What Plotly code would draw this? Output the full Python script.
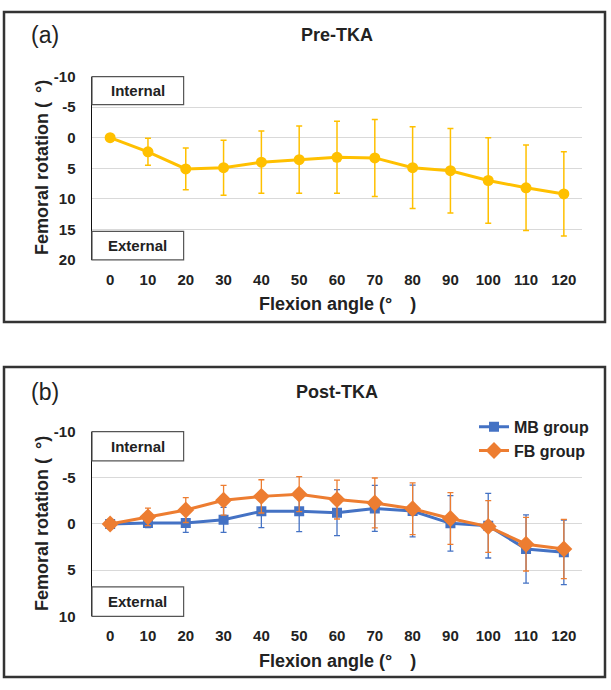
import plotly.graph_objects as go

# ---------------- data ----------------
flexion = [0, 10, 20, 30, 40, 50, 60, 70, 80, 90, 100, 110, 120]
x_tick_labels = [str(v) for v in flexion]

pre_mean = [0, 2.3, 5.1, 4.9, 4.0, 3.6, 3.2, 3.3, 4.9, 5.4, 7.0, 8.2, 9.2]
pre_sd = [0, 2.2, 3.4, 4.5, 5.1, 5.5, 5.9, 6.3, 6.7, 6.9, 7.0, 7.0, 6.9]

mb_mean = [0, -0.1, -0.1, -0.45, -1.37, -1.37, -1.23, -1.69, -1.4, -0.07, 0.18, 2.71, 3.07]
mb_sd = [0.5, 0.5, 1.0, 1.35, 1.77, 2.2, 2.5, 2.5, 2.8, 3.0, 3.5, 3.7, 3.5]

fb_mean = [0, -0.77, -1.51, -2.57, -2.99, -3.23, -2.64, -2.28, -1.65, -0.6, 0.28, 2.19, 2.71]
fb_sd = [0.4, 0.95, 1.35, 1.6, 1.8, 1.9, 2.1, 2.7, 2.8, 2.8, 2.8, 2.9, 3.2]

pre_yticks = [-10, -5, 0, 5, 10, 15, 20]
pre_ytick_labels = ["-10", "-5", "0", "5", "10", "15", "20"]
post_yticks = [-10, -5, 0, 5, 10]
post_ytick_labels = ["-10", "-5", "0", "5", "10"]

# ---------------- styling ----------------
W, H = 611, 690
FONT = "Liberation Sans, Arial, sans-serif"
YELLOW = "#FFC000"
BLUE = "#4472C4"
ORANGE = "#ED7D31"
GRID = "#D9D9D9"


def py(p):
    """pixel y -> paper fraction"""
    return 1 - p / H


def px(p):
    return p / W


fig = go.Figure()

fig.add_trace(go.Scatter(
    x=flexion, y=pre_mean, mode="lines+markers",
    line=dict(color=YELLOW, width=3),
    marker=dict(color=YELLOW, size=11, symbol="circle"),
    error_y=dict(type="data", array=pre_sd, visible=True, color=YELLOW,
                 thickness=1.5, width=3),
    xaxis="x", yaxis="y", showlegend=False, name="Pre-TKA"))

fig.add_trace(go.Scatter(
    x=flexion, y=mb_mean, mode="lines+markers", name="MB group",
    line=dict(color=BLUE, width=3),
    marker=dict(color=BLUE, size=10, symbol="square"),
    error_y=dict(type="data", array=mb_sd, visible=True, color=BLUE,
                 thickness=1.3, width=3),
    xaxis="x2", yaxis="y2", showlegend=True))

fig.add_trace(go.Scatter(
    x=flexion, y=fb_mean, mode="lines+markers", name="FB group",
    line=dict(color=ORANGE, width=3),
    marker=dict(color=ORANGE, size=13, symbol="diamond"),
    error_y=dict(type="data", array=fb_sd, visible=True, color=ORANGE,
                 thickness=1.3, width=3),
    xaxis="x2", yaxis="y2", showlegend=True))

xdom = [px(92), px(582)]
common_x = dict(
    domain=xdom, range=[-4.8, 124.8], tickmode="array", tickvals=flexion,
    ticktext=x_tick_labels, showgrid=False, zeroline=False, showline=False,
    ticks="outside", ticklen=6, tickcolor="rgba(0,0,0,0)",
    tickfont=dict(family=FONT, size=15, color="#222", weight="bold"),
    fixedrange=True)
common_y = dict(
    showgrid=True, gridcolor=GRID, gridwidth=1, zeroline=False,
    showline=True, linecolor="#111", linewidth=1.5, mirror=False,
    ticks="outside", ticklen=12, tickcolor="rgba(0,0,0,0)",
    tickfont=dict(family=FONT, size=15, color="#222", weight="bold"),
    fixedrange=True)

fig.update_layout(
    width=W, height=H, margin=dict(l=0, r=0, t=0, b=0),
    paper_bgcolor="white", plot_bgcolor="white",
    font=dict(family=FONT, color="#222"),
    hovermode=False,
    xaxis=dict(common_x, anchor="y"),
    yaxis=dict(common_y, anchor="x", domain=[py(257.3), py(69.3)],
               range=[20, -10], tickmode="array", tickvals=pre_yticks,
               ticktext=pre_ytick_labels),
    xaxis2=dict(common_x, anchor="y2"),
    yaxis2=dict(common_y, anchor="x2", domain=[py(622.7), py(433.3)],
                range=[10, -10], tickmode="array", tickvals=post_yticks,
                ticktext=post_ytick_labels),
    legend=dict(x=px(474), y=py(411), xanchor="left", yanchor="top",
                bgcolor="white", borderwidth=0, tracegroupgap=0,
                itemwidth=30,
                font=dict(family=FONT, size=16, color="#222", weight="bold")),
)

shapes = []
# outer panel frames
for top, bot in [(3, 321), (367, 685)]:
    shapes.append(dict(type="rect", xref="paper", yref="paper",
                       x0=px(4), x1=px(605), y0=py(bot), y1=py(top),
                       line=dict(color="#333", width=2.5),
                       fillcolor="rgba(0,0,0,0)"))
# Internal / External boxes
box_w = 0.187
for xr, yr, y0, y1 in [("x domain", "y domain", 0.847, 1.0),
                       ("x domain", "y domain", 0.0, 0.156),
                       ("x2 domain", "y2 domain", 0.842, 1.0),
                       ("x2 domain", "y2 domain", 0.0, 0.16)]:
    shapes.append(dict(type="rect", xref=xr, yref=yr, x0=0, x1=box_w,
                       y0=y0, y1=y1, line=dict(color="#555", width=1.2),
                       fillcolor="white", layer="above"))
fig.update_layout(shapes=shapes)

ann = []
for xr, yr, yc, t in [("x domain", "y domain", 0.9235, "Internal"),
                      ("x domain", "y domain", 0.078, "External"),
                      ("x2 domain", "y2 domain", 0.921, "Internal"),
                      ("x2 domain", "y2 domain", 0.08, "External")]:
    ann.append(dict(xref=xr, yref=yr, x=box_w / 2, y=yc, text="<b>%s</b>" % t,
                    showarrow=False, xanchor="center", yanchor="middle",
                    font=dict(family=FONT, size=15, color="#222")))

for (ymid, xt_y, lab, lab_y, ttl) in [
        (163, 302, "(a)", 27, "Pre-TKA"),
        (528, 668, "(b)", 393, "Post-TKA")]:
    ann.append(dict(xref="paper", yref="paper", x=px(42), y=py(ymid),
                    text="<b>Femoral rotation (\u2002°)</b>", textangle=-90,
                    showarrow=False, xanchor="center", yanchor="middle",
                    font=dict(family=FONT, size=18, color="#222")))
    ann.append(dict(xref="paper", yref="paper", x=px(337), y=py(xt_y),
                    text="<b>Flexion angle (°\u2002\u2002)</b>",
                    showarrow=False, xanchor="center", yanchor="middle",
                    font=dict(family=FONT, size=18, color="#222")))
    ann.append(dict(xref="paper", yref="paper", x=px(45), y=py(lab_y),
                    text=lab, showarrow=False, xanchor="center",
                    yanchor="middle",
                    font=dict(family=FONT, size=23, color="#222")))
    ann.append(dict(xref="paper", yref="paper", x=px(337), y=py(lab_y),
                    text="<b>%s</b>" % ttl, showarrow=False,
                    xanchor="center", yanchor="middle",
                    font=dict(family=FONT, size=18, color="#222")))
fig.update_layout(annotations=ann)

fig.write_html("out.html",
               config={"displayModeBar": False, "staticPlot": True},
               post_script="document.body.style.margin='0';"
                           "document.body.style.overflow='hidden';")
